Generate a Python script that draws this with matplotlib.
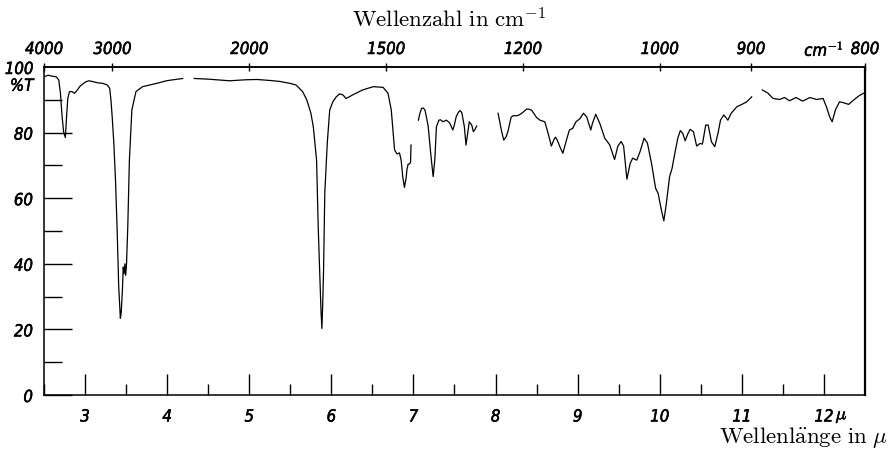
import matplotlib
matplotlib.use('Agg')
import matplotlib.pyplot as plt
import matplotlib.patheffects as pe
import numpy as np

plt.rcParams['mathtext.fontset'] = 'cm'

# spectrum: wavelength in micron, transmission in %
# the recorder trace has gaps, so it is kept as separate pieces
lam1 = [2.50, 2.55, 2.60, 2.65, 2.68, 2.70, 2.72, 2.74, 2.76, 2.775, 2.79, 2.81, 2.84, 2.87,
        2.90, 2.94, 2.97, 3.01, 3.05, 3.10, 3.15, 3.22, 3.27, 3.30, 3.315, 3.33, 3.35, 3.37,
        3.39, 3.41, 3.43, 3.44, 3.455, 3.465, 3.475, 3.485, 3.495, 3.505, 3.52, 3.54, 3.57,
        3.62, 3.70, 3.80, 3.87, 3.99, 4.10, 4.19]
t1 = [97, 97.5, 97.2, 97, 96, 92, 85, 80, 78.5, 85, 90.5, 92.5, 92.5, 92,
      92.8, 94.2, 94.8, 95.5, 95.8, 95.5, 95.2, 95, 94.5, 93.5, 90, 85, 77, 66,
      51, 33, 23.4, 25, 32, 39, 37, 40, 36.5, 40, 51, 71.6, 86.9,
      92.5, 94, 94.6, 95, 95.8, 96.2, 96.5]

lam2 = [4.33, 4.50, 4.76, 4.95, 5.09, 5.25, 5.37, 5.50, 5.57, 5.65, 5.70, 5.75, 5.78, 5.82,
        5.84, 5.86, 5.875, 5.885, 5.895, 5.905, 5.92, 5.95, 5.98, 6.02, 6.06, 6.10, 6.14,
        6.18, 6.26, 6.38, 6.51, 6.63, 6.69, 6.73, 6.77, 6.80, 6.83, 6.85, 6.87, 6.89, 6.91,
        6.92, 6.935, 6.95, 6.965, 6.97]
t2 = [96.5, 96.3, 95.8, 96.1, 96.2, 95.9, 95.6, 95, 94.5, 92.5, 90, 86, 81.8, 71.6,
      51.3, 36, 25, 20.3, 28, 38, 61.5, 76.7, 86.9, 89.5, 90.9, 91.8, 91.5,
      90.4, 91.5, 93, 94, 93.8, 92, 86.9, 74.7, 73.5, 73.8, 71.6, 66.5, 63.3, 66,
      68.6, 70.4, 70.4, 71, 76.2]

lam3 = [7.06, 7.08, 7.10, 7.12, 7.14, 7.16, 7.18, 7.21, 7.24, 7.26, 7.28, 7.31, 7.33, 7.36,
        7.40, 7.44, 7.48, 7.50, 7.52, 7.55, 7.57, 7.59, 7.62, 7.64, 7.66, 7.68, 7.695, 7.71,
        7.73, 7.75, 7.77]
t3 = [83.8, 86, 87.4, 87.5, 86.9, 84.5, 81.8, 73.7, 66.6, 71.6, 81.8, 83.8, 83.9, 83.3,
      83.8, 83, 80.8, 82.5, 84.8, 86.3, 86.7, 86, 81.8, 76.2, 79.7, 83.3, 82.8, 82.3,
      80.3, 81, 82]

lam4 = [8.03, 8.05, 8.07, 8.10, 8.13, 8.15, 8.19, 8.22, 8.25, 8.28, 8.32, 8.38, 8.41, 8.44,
        8.50, 8.54, 8.60, 8.64, 8.68, 8.71, 8.73, 8.75, 8.79, 8.82, 8.87, 8.90, 8.94, 8.98,
        9.03, 9.07, 9.11, 9.16, 9.18, 9.22, 9.27, 9.33, 9.39, 9.45, 9.49, 9.53, 9.56, 9.60,
        9.64, 9.67, 9.72, 9.76, 9.81, 9.85, 9.90, 9.95, 9.98, 10.02, 10.05, 10.08, 10.12,
        10.15, 10.18, 10.22, 10.25, 10.28, 10.31, 10.34, 10.37, 10.41, 10.45, 10.49, 10.52,
        10.56, 10.59, 10.63, 10.67, 10.71, 10.74, 10.78, 10.83, 10.87, 10.94, 11.00, 11.06,
        11.12]
t4 = [85.9, 83.5, 80.8, 77.7, 78.8, 80.3, 84.7, 85.2, 85.1, 85.3, 85.9, 87.2, 87.1, 86.8,
      84.6, 83.8, 83.3, 79.8, 75.9, 77.8, 78.6, 77.8, 75.3, 73.7, 78.3, 80.8, 81.3, 83.3,
      84.3, 85.9, 84.8, 80.8, 82.8, 85.6, 82.8, 78.3, 76.3, 71.8, 75.9, 77.3, 75.9, 65.8,
      70.6, 72.2, 71.6, 74.2, 78.3, 76.8, 70.6, 63, 61.5, 56.4, 53.1, 58.3, 66.6,
      69.1, 73.2, 78.3, 80.6, 79.8, 77.5, 79.5, 81, 80.3, 75.9, 76.7, 76.5,
      82.3, 82.3, 77.2, 75.7, 79.8, 83.8, 85.4, 83.8, 85.9, 87.9, 88.6, 89.4,
      90.9]

lam5 = [11.25, 11.32, 11.38, 11.46, 11.52, 11.58, 11.66, 11.74, 11.83, 11.91, 11.99, 12.03,
        12.07, 12.10, 12.14, 12.19, 12.24, 12.30, 12.36, 12.42, 12.48]
t5 = [93, 92, 90.4, 90.1, 90.7, 89.7, 90.7, 89.6, 90.7, 90.1, 90.4, 87.9,
      84.8, 83.3, 86.9, 89.4, 89.1, 88.6, 89.9, 91.1, 92]

lam_ticks = [3, 4, 5, 6, 7, 8, 9, 10, 11, 12]
lam_minor = [2.5, 3.5, 4.5, 5.5, 6.5, 7.5, 8.5, 9.5, 10.5, 11.5]
wn_ticks = [4000, 3000, 2000, 1500, 1200, 1000, 900, 800]
t_ticks = [0, 20, 40, 60, 80]
t_minor = [10, 30, 50, 70, 90]

# hand lettered look: condensed oblique, slightly thickened
thick = [pe.withStroke(linewidth=0.4, foreground='black')]
lblfont = dict(family=['DejaVu Sans Condensed', 'DejaVu Sans'], stretch='condensed',
               style='italic', size=12)

fig = plt.figure(figsize=(8.91, 4.5), dpi=100)
ax = fig.add_axes([0.0494, 0.1222, 0.9214, 0.7289])

for lam, t in [(lam1, t1), (lam2, t2), (lam3, t3), (lam4, t4), (lam5, t5)]:
    ax.plot(lam, t, color='black', lw=0.9)

ax.set_xlim(2.5, 12.5)
ax.set_ylim(0, 100)
for s in ax.spines.values():
    s.set_linewidth(1.1)
ax.spines['right'].set_linewidth(1.6)

ax.set_xticks(lam_ticks)
ax.set_xticklabels([str(v) for v in lam_ticks], **lblfont)
ax.set_xticks(lam_minor, minor=True)
ax.tick_params(axis='x', which='major', direction='in', length=15, width=1, pad=9)
ax.tick_params(axis='x', which='minor', direction='in', length=8, width=1)

ax.set_yticks(t_ticks)
ax.set_yticklabels([str(v) for v in t_ticks], **lblfont)
ax.set_yticks(t_minor, minor=True)
ax.tick_params(axis='y', which='major', direction='in', length=20, width=1, pad=8)
ax.tick_params(axis='y', which='minor', direction='in', length=13, width=1)

# wavenumber scale on top
sec = ax.secondary_xaxis('top', functions=(lambda x: 1e4 / x, lambda x: 1e4 / x))
sec.set_xticks(wn_ticks)
sec.set_xticklabels([str(v) for v in wn_ticks], **lblfont)
sec.tick_params(axis='x', direction='inout', length=6, width=1, pad=3.5)
sec.spines['top'].set_linewidth(1.1)

extra = []
extra.append(ax.text(-0.013, 99.4, '100', transform=ax.get_yaxis_transform(),
                     ha='right', va='center', **lblfont))
extra.append(ax.text(-0.013, 94.3, '%T', transform=ax.get_yaxis_transform(),
                     ha='right', va='center', **lblfont))
extra.append(ax.text(12.14, -7.4, r'$\mu$', ha='left', va='baseline', fontsize=13,
                     clip_on=False))
extra.append(ax.text(12.24, 1.022, 'cm$^{-1}$', transform=ax.get_xaxis_transform(),
                     ha='right', va='bottom', **lblfont))

for lbl in ax.get_xticklabels() + ax.get_yticklabels() + sec.get_xticklabels() + extra:
    lbl.set_path_effects(thick)

fig.text(0.504, 0.94, r'$\mathrm{Wellenzahl\ in\ cm^{-1}}$', ha='center', va='baseline', fontsize=16.5)
fig.text(0.9966, 0.016, r'$\mathrm{Wellenl\ddot{a}nge\ in\ }\mu$', ha='right', va='baseline', fontsize=16.5)

fig.savefig('out.png', dpi=100)
